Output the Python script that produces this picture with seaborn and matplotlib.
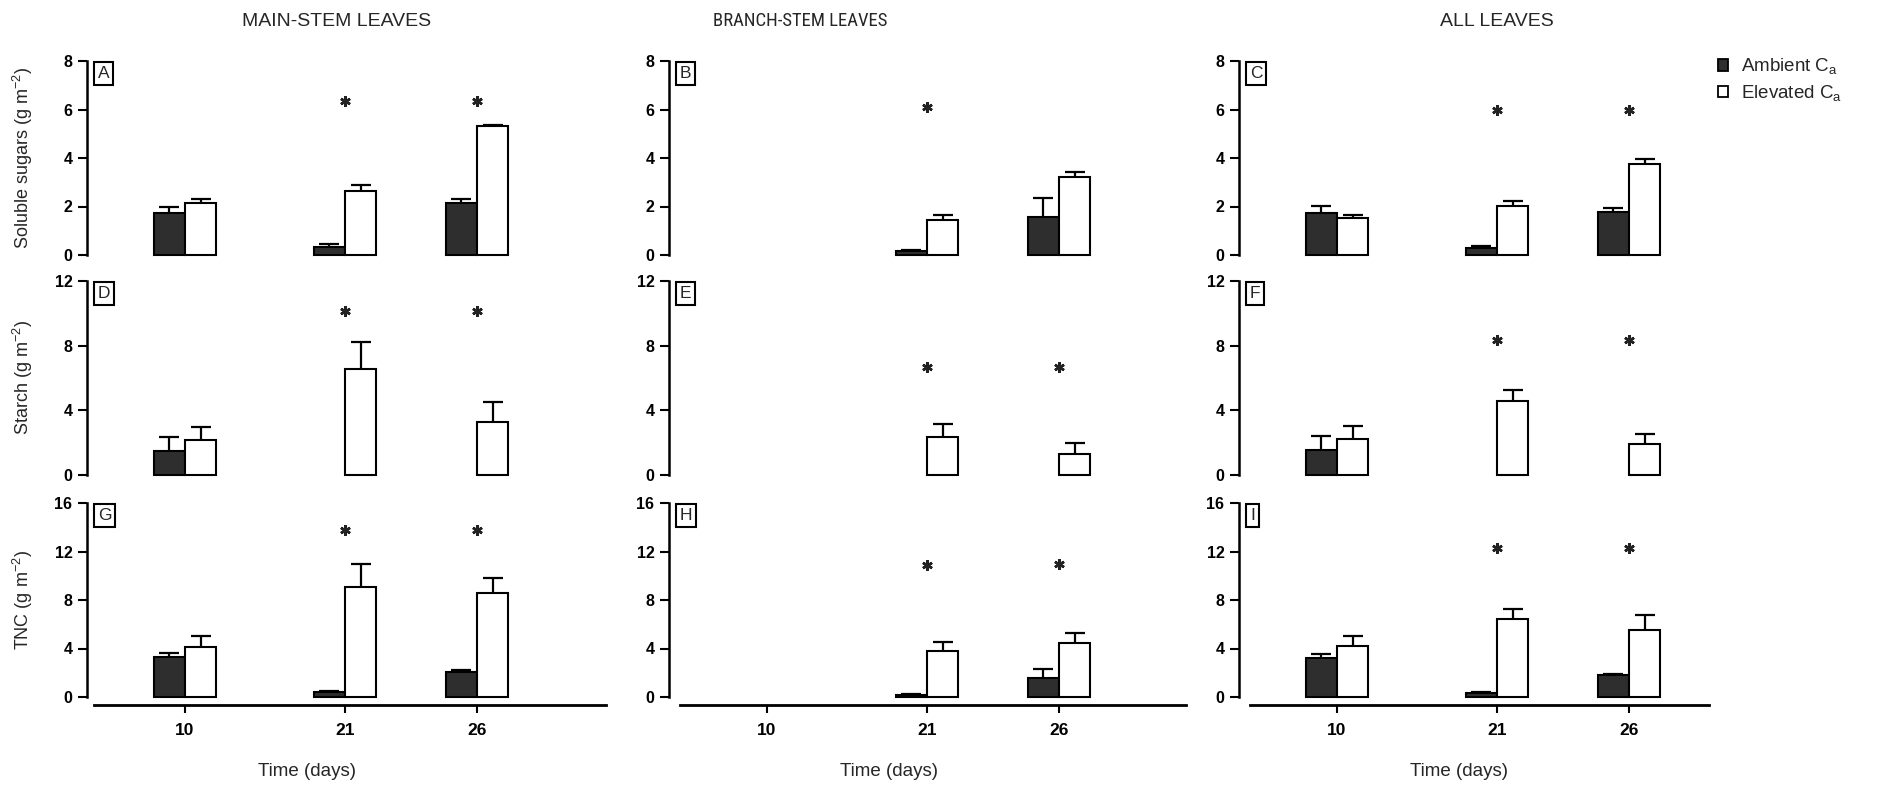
import numpy as np
import pandas as pd
import matplotlib
matplotlib.use("Agg")
import matplotlib.pyplot as plt
from matplotlib.patches import Patch
from matplotlib import font_manager
import seaborn as sns

nan = np.nan

# ---------------- data ----------------
days = [10, 21, 26]
treatments = ["Ambient", "Elevated"]
column_titles = ["MAIN-STEM LEAVES", "BRANCH-STEM LEAVES", "ALL LEAVES"]
row_labels = ["Soluble sugars (g m$^{\\mathregular{-2}}$)",
              "Starch (g m$^{\\mathregular{-2}}$)",
              "TNC (g m$^{\\mathregular{-2}}$)"]
panel_letters = ["A", "B", "C", "D", "E", "F", "G", "H", "I"]
y_max = [8, 12, 16]
y_ticks = [[0, 2, 4, 6, 8], [0, 4, 8, 12], [0, 4, 8, 12, 16]]

# Soluble sugars
A_amb = [1.75, 0.35, 2.14];   A_amb_err = [0.25, 0.10, 0.16]
A_elev = [2.14, 2.62, 5.31];  A_elev_err = [0.18, 0.25, 0.06]
A_star = [nan, 6.34, 6.34]
B_amb = [nan, 0.18, 1.55];    B_amb_err = [nan, 0.03, 0.80]
B_elev = [nan, 1.44, 3.20];   B_elev_err = [nan, 0.22, 0.24]
B_star = [nan, 6.12, nan]
C_amb = [1.72, 0.28, 1.79];   C_amb_err = [0.29, 0.08, 0.13]
C_elev = [1.53, 2.01, 3.74];  C_elev_err = [0.14, 0.20, 0.20]
C_star = [nan, 5.97, 5.97]
# Starch
D_amb = [1.50, nan, nan];     D_amb_err = [0.88, nan, nan]
D_elev = [2.15, 6.56, 3.30];  D_elev_err = [0.85, 1.67, 1.21]
D_star = [nan, 10.17, 10.17]
E_amb = [nan, nan, nan];      E_amb_err = [nan, nan, nan]
E_elev = [nan, 2.38, 1.29];   E_elev_err = [nan, 0.75, 0.71]
E_star = [nan, 6.68, 6.68]
F_amb = [1.54, nan, nan];     F_amb_err = [0.89, nan, nan]
F_elev = [2.22, 4.57, 1.91];  F_elev_err = [0.80, 0.68, 0.62]
F_star = [nan, 8.37, 8.37]
# TNC
G_amb = [3.26, 0.38, 2.05];   G_amb_err = [0.36, 0.09, 0.17]
G_elev = [4.16, 9.10, 8.55];  G_elev_err = [0.91, 1.90, 1.23]
G_star = [nan, 13.8, 13.8]
H_amb = [nan, 0.19, 1.54];    H_amb_err = [nan, 0.02, 0.74]
H_elev = [nan, 3.76, 4.45];   H_elev_err = [nan, 0.80, 0.82]
H_star = [nan, 10.85, 10.95]
I_amb = [3.21, 0.30, 1.84];   I_amb_err = [0.36, 0.08, 0.08]
I_elev = [4.20, 6.46, 5.49];  I_elev_err = [0.85, 0.82, 1.24]
I_star = [nan, 12.28, 12.28]

panel_data = [
    (A_amb, A_amb_err, A_elev, A_elev_err, A_star),
    (B_amb, B_amb_err, B_elev, B_elev_err, B_star),
    (C_amb, C_amb_err, C_elev, C_elev_err, C_star),
    (D_amb, D_amb_err, D_elev, D_elev_err, D_star),
    (E_amb, E_amb_err, E_elev, E_elev_err, E_star),
    (F_amb, F_amb_err, F_elev, F_elev_err, F_star),
    (G_amb, G_amb_err, G_elev, G_elev_err, G_star),
    (H_amb, H_amb_err, H_elev, H_elev_err, H_star),
    (I_amb, I_amb_err, I_elev, I_elev_err, I_star),
]

# ---------------- layout / style ----------------
W, H = 1884, 786
COL_X = [87, 669, 1239]
AX_W = 520
ROW_TOP = [61, 281, 503]
AX_H = 194
GROUP_POS = [98, 258, 390]           # horizontal slots (px from y-axis)
XLINE = [(7, 519), (11, 517), (11, 470)]
TITLE_X = [337, 800, 1497]
DARK = "#2e2e2e"
palette = {"Ambient": DARK, "Elevated": "white"}

sns.set_style("ticks")
plt.rcParams["font.family"] = ["Liberation Sans", "DejaVu Sans"]
plt.rcParams["mathtext.fontset"] = "custom"
plt.rcParams["mathtext.rm"] = "Liberation Sans"

# condensed face for the middle title if one is installed
installed = {f.name for f in font_manager.fontManager.ttflist}
narrow = None
for cand in ["Liberation Sans Narrow", "DejaVu Sans Condensed", "Roboto Condensed", "Open Sans Condensed"]:
    if cand in installed:
        narrow = cand
        break

fig = plt.figure(figsize=(W / 100, H / 100), dpi=100)

for r in range(3):
    for c in range(3):
        k = r * 3 + c
        amb, amb_err, elev, elev_err, star = panel_data[k]
        ax = fig.add_axes([COL_X[c] / W, 1 - (ROW_TOP[r] + AX_H) / H, AX_W / W, AX_H / H])
        df = pd.DataFrame({
            "pos": GROUP_POS * 2,
            "value": list(amb) + list(elev),
            "treatment": ["Ambient"] * 3 + ["Elevated"] * 3,
        })
        sns.barplot(data=df, x="pos", y="value", hue="treatment", hue_order=treatments,
                    palette=palette, native_scale=True, width=0.47, errorbar=None,
                    edgecolor="black", linewidth=1.5, saturation=1, legend=False, ax=ax)
        errs = {"Ambient": amb_err, "Elevated": elev_err}
        for p in list(ax.patches):
            p.set_clip_on(False)
            h = p.get_height()
            if not np.isfinite(h):
                continue
            cx = p.get_x() + p.get_width() / 2
            gi = int(np.argmin([abs(g - cx) for g in GROUP_POS]))
            hue = "Ambient" if p.get_facecolor()[0] < 0.5 else "Elevated"
            e = errs[hue][gi]
            if not np.isfinite(e):
                continue
            _, caps, _ = ax.errorbar(cx, h, yerr=[[0], [e]], fmt="none", ecolor="black",
                                     elinewidth=1.6, capsize=7.5, capthick=1.6, zorder=1,
                                     clip_on=False)
            caps[0].set_visible(False)
        # significance asterisks
        sx = [GROUP_POS[i] for i in range(3) if np.isfinite(star[i])]
        sy = [star[i] for i in range(3) if np.isfinite(star[i])]
        ax.plot(sx, sy, linestyle="none", marker=(6, 2, 0), ms=7.5, mew=1.8, color="#222222")

        ax.set_xlim(0, AX_W)
        ax.set_ylim(0, y_max[r])
        ax.set_yticks(y_ticks[r])
        ax.set_yticklabels([str(t) for t in y_ticks[r]], fontsize=11.5, fontweight="bold")
        ax.tick_params(axis="y", direction="out", length=6.5, width=1.5, pad=4, colors="black")
        for s in ["top", "right"]:
            ax.spines[s].set_visible(False)
        ax.spines["left"].set_linewidth(1.8)
        ax.spines["left"].set_color("black")
        if r < 2:
            ax.spines["bottom"].set_visible(False)
            ax.set_xticks([])
            ax.set_xlabel("")
        else:
            sp = ax.spines["bottom"]
            sp.set_position(("outward", 6))
            sp.set_bounds(*XLINE[c])
            sp.set_linewidth(2.0)
            sp.set_color("black")
            ax.set_xticks(GROUP_POS)
            ax.set_xticklabels([str(d) for d in days], fontsize=12.5, fontweight="bold")
            ax.tick_params(axis="x", direction="out", length=6, width=1.5, pad=7, colors="black")
            ax.set_xlabel("Time (days)", fontsize=13.5)
            ax.xaxis.set_label_coords(220 / AX_W, -0.34)
        if c == 0:
            ax.set_ylabel(row_labels[r], fontsize=13)
            ax.yaxis.set_label_coords(-0.1, 0.5)
        else:
            ax.set_ylabel("")
        ax.text(11 / AX_W, 1 - 5 / AX_H, panel_letters[k], transform=ax.transAxes,
                ha="left", va="top", fontsize=12.5,
                bbox=dict(boxstyle="square,pad=0.22", fc="white", ec="black", lw=1.5))
        if r == 0 and c == 2:
            handles = [Patch(facecolor=palette[t], edgecolor="black", linewidth=1.3) for t in treatments]
            fig.legend(handles, ["Ambient C$_{\\mathregular{a}}$", "Elevated C$_{\\mathregular{a}}$"],
                       loc="upper left", bbox_to_anchor=(1710 / W, 1 - 49 / H),
                       frameon=False, fontsize=13.5, handlelength=0.55, handleheight=0.55,
                       handletextpad=0.7, labelspacing=0.35, borderaxespad=0)

for i, t in enumerate(column_titles):
    if i == 1 and narrow is not None:
        fam, size = [narrow, "Liberation Sans"], 13.5
    elif i == 1:
        fam, size = ["Liberation Sans"], 11.5
    else:
        fam, size = ["Liberation Sans"], 14
    fig.text(TITLE_X[i] / W, 1 - 21 / H, t, ha="center", va="center", fontsize=size, family=fam)

fig.savefig("out.png", dpi=100)
